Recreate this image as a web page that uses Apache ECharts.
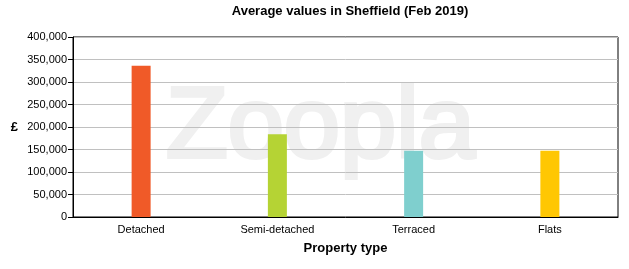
<!DOCTYPE html>
<html>
<head>
<meta charset="utf-8">
<script src="https://cdn.jsdelivr.net/npm/echarts@6/dist/echarts.min.js"></script>
<style>
  html, body { margin: 0; padding: 0; background: #fff; }
  #main { width: 629px; height: 269px; }
</style>
</head>
<body>
<div id="main"></div>
<script>
    var categories = ['Detached', 'Semi-detached', 'Terraced', 'Flats'];
    var values = [336000, 184000, 147000, 147000];
    var barColors = ['#f05a28', '#b5d334', '#7fcfce', '#ffc703'];

    var myChart = echarts.init(document.getElementById('main'));
    var option = {
        backgroundColor: '#fff',
        animation: false,
        textStyle: { fontFamily: 'Liberation Sans, Arial, sans-serif' },

        title: {
            text: 'Average values in Sheffield (Feb 2019)',
            left: 345,
            textAlign: 'center',
            top: 0,
            textStyle: {
                color: '#000',
                fontSize: 13,
                fontWeight: 'bold',
                fontFamily: 'Liberation Sans, Arial, sans-serif'
            }
        },

        graphic: [{
            type: 'text',
            left: 164,
            top: 77,
            silent: true,
            z: -10,
            style: {
                text: 'Zoopla',
                font: '101px "Liberation Sans", Arial, sans-serif',
                fill: '#f0f0f0',
                stroke: '#f0f0f0',
                lineWidth: 4
            }
        }],

        grid: {
            left: 73,
            right: 11,
            top: 37,
            bottom: 52,
            show: true,
            borderColor: '#000',
            borderWidth: 1,
            backgroundColor: 'transparent'
        },

        xAxis: {
            type: 'category',
            data: categories,
            name: 'Property type',
            nameLocation: 'middle',
            nameGap: 25,
            nameTextStyle: { color: '#000', fontSize: 13, fontWeight: 'bold' },
            axisLine: { lineStyle: { color: '#000' } },
            axisTick: { alignWithLabel: true, length: 4, lineStyle: { color: '#000' } },
            axisLabel: { color: '#000', fontSize: 11, margin: 7 }
        },

        yAxis: {
            type: 'value',
            min: 0,
            max: 400000,
            interval: 50000,
            name: '£',
            nameLocation: 'middle',
            nameRotate: 0,
            nameGap: 55,
            nameTextStyle: { color: '#000', fontSize: 13, fontWeight: 'bold' },
            axisLine: { show: true, lineStyle: { color: '#000' } },
            axisTick: { show: true, length: 5, lineStyle: { color: '#000' } },
            axisLabel: {
                color: '#000',
                fontSize: 11,
                margin: 6,
                formatter: function (v) { return v.toLocaleString('en-GB'); }
            },
            splitLine: { lineStyle: { color: '#c0c0c0' } }
        },

        series: [{
            type: 'bar',
            barWidth: 19,
            data: values.map(function (v, i) {
                return { value: v, itemStyle: { color: barColors[i] } };
            })
        }]
    };
    myChart.setOption(option);
</script>
</body>
</html>
